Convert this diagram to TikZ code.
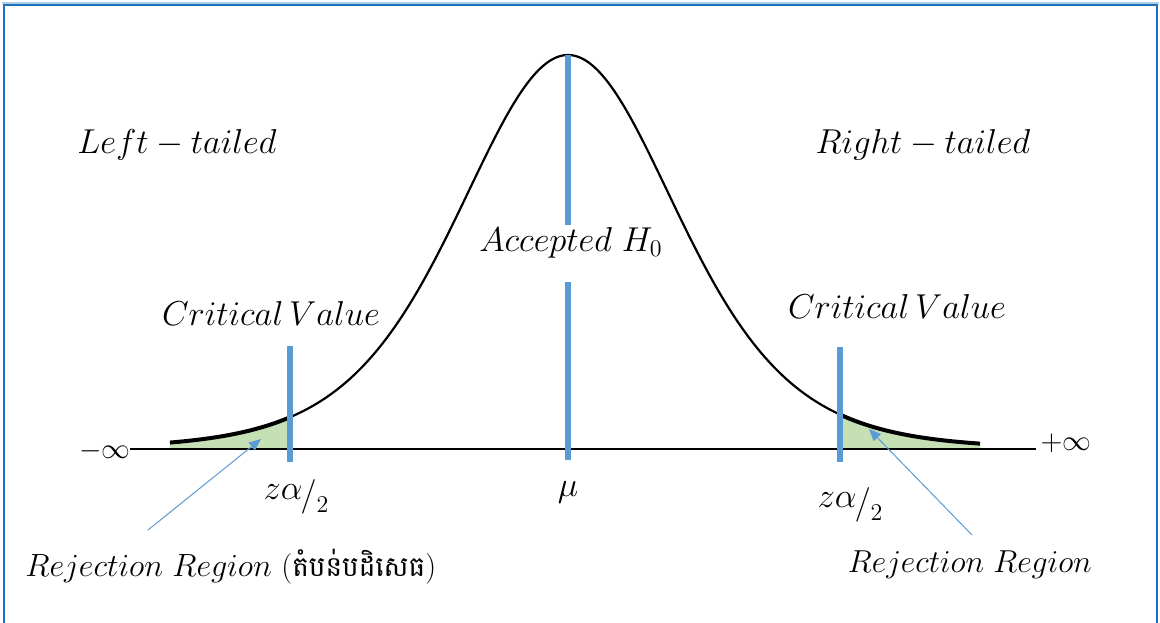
\documentclass[tikz,border=0pt]{standalone}
\usepackage{fontspec}
\newfontfamily\khmerfont[Script=Khmer]{Battambang}
\usetikzlibrary{arrows.meta}
\definecolor{frameblue}{RGB}{30,112,190}
\definecolor{lineblue}{RGB}{91,155,213}
\definecolor{tailgreen}{RGB}{197,224,180}
\begin{document}
\begin{tikzpicture}[x=0.5pt,y=-0.5pt,
  lbl/.style={inner sep=0pt,font=\fontsize{16.5}{20}\selectfont},
  rlbl/.style={inner sep=0pt,font=\fontsize{15.5}{19}\selectfont},
  bluebar/.style={lineblue,line width=2.6pt},
  pointer/.style={lineblue,line width=0.5pt,-{Triangle[length=6pt,width=5pt]}},
  declare function={g(\t)=449-394/(1+((\t-568)/297)^2)^4;}]
\useasboundingbox (0,0) rectangle (1160,622);
\fill[white] (0,0) rectangle (1160,622);
% frame
\draw[frameblue!35,line width=1pt] (2,3) -- (1159,3);
\draw[frameblue,line width=0.9pt] (4,640) -- (4,5) -- (1157,5) -- (1157,640);
% green tails
\fill[tailgreen] plot[domain=170:290,samples=60] (\x,{g(\x)}) -- (290,449) -- (170,449) -- cycle;
\fill[tailgreen] plot[domain=840:980,samples=60] (\x,{g(\x)}) -- (980,449) -- (840,449) -- cycle;
% baseline
\coordinate (bl) at (130,449);
\coordinate (br) at (1036,449);
\draw[line width=1pt] (bl) -- (br);
% curve
\draw[line width=1.1pt] plot[domain=290:840,samples=200,smooth] (\x,{g(\x)});
\draw[line width=2pt] plot[domain=170:290,samples=60,smooth] (\x,{g(\x)});
\draw[line width=2pt] plot[domain=840:980,samples=60,smooth] (\x,{g(\x)});
% blue bars
\coordinate (cl1) at (290,346); \coordinate (cl2) at (290,462);
\coordinate (cr1) at (840,347); \coordinate (cr2) at (840,462);
\coordinate (m1) at (568,55); \coordinate (m2) at (568,225);
\coordinate (m3) at (568,282); \coordinate (m4) at (568,460);
\draw[bluebar] (cl1) -- (cl2);
\draw[bluebar] (cr1) -- (cr2);
\draw[bluebar] (m1) -- (m2);
\draw[bluebar] (m3) -- (m4);
% labels
\node[lbl] (lt) at (177,145) {$Left-tailed$};
\node[lbl] (rt) at (923,145) {$Right-tailed$};
\node[lbl] (cvl) at (271,313) {$Critical\,Value$};
\node[lbl] (cvr) at (897,306) {$Critical\,Value$};
\node[lbl] (acc) at (571,243) {$Accepted\ H_0$};
\node[lbl] (mu) at (568,492) {$\mu$};
\node[lbl] (zl) at (296,497) {$z{\textstyle\alpha}\mkern-1mu\raisebox{-0.45ex}{$/$}\raisebox{-0.9ex}{$\scriptstyle 2$}$};
\node[lbl] (zr) at (850,505) {$z{\textstyle\alpha}\mkern-1mu\raisebox{-0.45ex}{$/$}\raisebox{-0.9ex}{$\scriptstyle 2$}$};
\node[rlbl] (minf) at (105,451) {$-\infty$};
\node[rlbl] (pinf) at (1066,443) {$+\infty$};
\node[lbl,anchor=west] (rrl) at (25,567) {\scalebox{0.93}{$Rejection\ Region$ ({\khmerfont\fontsize{15}{18}\selectfont តំបន់បដិសេធ})}};
\node[lbl] (rrr) at (970,565) {\scalebox{0.92}{$Rejection\ Region$}};
% pointers
\coordinate (pl1) at (148,530); \coordinate (pl2) at (261,439);
\coordinate (pr1) at (972,535); \coordinate (pr2) at (869,429);
\draw[pointer] (pl1) -- (pl2);
\draw[pointer] (pr1) -- (pr2);
\end{tikzpicture}
\end{document}
